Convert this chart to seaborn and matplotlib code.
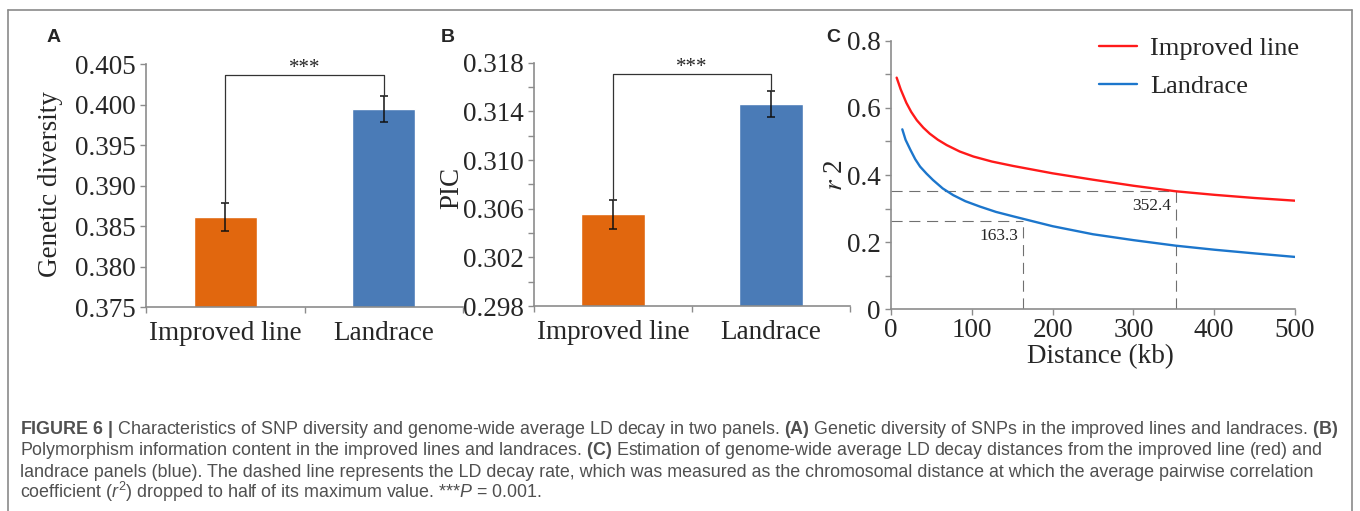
import numpy as np
import pandas as pd
import matplotlib
matplotlib.use("Agg")
import matplotlib.pyplot as plt
from matplotlib.lines import Line2D
import seaborn as sns

# ---------------- data ----------------
groups = ["Improved line", "Landrace"]
gd_mean = [0.3861, 0.3994]
gd_err = [0.0017, 0.0016]
gd_bracket = 0.4036
pic_mean = [0.30554, 0.3146]
pic_err = [0.0012, 0.00107]
pic_bracket = 0.31707
sig_label = "***"

dist_improved = [7, 12, 19, 25, 32, 40, 48, 58, 69, 85, 102, 125, 151, 200, 250,
                 300, 352.4, 400, 450, 500]
r2_improved = [0.690, 0.655, 0.615, 0.588, 0.563, 0.541, 0.523, 0.505, 0.489, 0.470,
               0.455, 0.440, 0.427, 0.405, 0.386, 0.368, 0.3515, 0.341, 0.3315, 0.3235]
dist_landrace = [14, 18, 24, 30, 36, 44, 52, 64, 77, 92, 110, 130, 151, 175, 200,
                 250, 300, 352.4, 400, 450, 500]
r2_landrace = [0.536, 0.505, 0.475, 0.447, 0.425, 0.404, 0.385, 0.360, 0.340, 0.322,
               0.306, 0.290, 0.277, 0.2625, 0.2475, 0.2235, 0.206, 0.1895, 0.1775,
               0.1665, 0.156]
decay_dist = [352.4, 163.3]
decay_r2 = [0.3515, 0.262]

gd_ticks = [0.375, 0.380, 0.385, 0.390, 0.395, 0.400, 0.405]
pic_ticks = [0.298, 0.302, 0.306, 0.310, 0.314, 0.318]
r2_ticks = [0, 0.2, 0.4, 0.6, 0.8]
r2_ticklabels = ["0", "0.2", "0.4", "0.6", "0.8"]
dist_ticks = [0, 100, 200, 300, 400, 500]

caption_lines = [
    r"$\mathbf{FIGURE\ 6\ |}$ Characteristics of SNP diversity and genome-wide average LD decay in two panels. $\mathbf{(A)}$ Genetic diversity of SNPs in the improved lines and landraces. $\mathbf{(B)}$",
    r"Polymorphism information content in the improved lines and landraces. $\mathbf{(C)}$ Estimation of genome-wide average LD decay distances from the improved line (red) and",
    r"landrace panels (blue). The dashed line represents the LD decay rate, which was measured as the chromosomal distance at which the average pairwise correlation",
    r"coefficient ($r^2$) dropped to half of its maximum value. ***$P$ = 0.001.",
]

bar_colors = ["#E1670E", "#4A7BB7"]
line_colors = ["#FF1A1A", "#1C76CC"]

# ---------------- style ----------------
sns.set_style("ticks")
plt.rcParams["font.family"] = ["Liberation Serif", "DejaVu Serif"]
plt.rcParams["mathtext.fontset"] = "custom"
plt.rcParams["mathtext.rm"] = "Liberation Sans"
plt.rcParams["mathtext.it"] = "Liberation Sans:italic"
plt.rcParams["mathtext.bf"] = "Liberation Sans:bold"

W, H = 1360, 511
fig = plt.figure(figsize=(W / 100, H / 100), dpi=100)


def fx(px):
    return px / W


def fy(py):
    return 1 - py / H


def rect(l, t, r, b):
    return [fx(l), fy(b), (r - l) / W, (b - t) / H]


SPINE = "#8c8c8c"
FS = 19.5


def style_axes(ax):
    sns.despine(ax=ax)
    for s in ["left", "bottom"]:
        ax.spines[s].set_color(SPINE)
        ax.spines[s].set_linewidth(1.2)
    ax.tick_params(axis="both", which="both", color=SPINE, width=1.0,
                   labelsize=FS, direction="out")


def bar_panel(ax, means, errs, ylim, ticks, minor, ylabel, bracket, label_xy):
    df = pd.DataFrame({"group": groups, "value": means})
    sns.barplot(data=df, x="group", y="value", hue="group", palette=bar_colors,
                width=0.4, saturation=1, legend=False, ax=ax, errorbar=None)
    ax.errorbar(x=[0, 1], y=means, yerr=errs, fmt="none", ecolor="#111111",
                elinewidth=1.1, capsize=3, capthick=1.1, zorder=4)
    top = [m + e for m, e in zip(means, errs)]
    ax.plot([0, 0, 1, 1], [top[0], bracket, bracket, top[1]], color="#333333",
            lw=0.9, zorder=4)
    ax.annotate(sig_label, xy=(0.5, bracket), xytext=(0, 1.5),
                textcoords="offset points", ha="center", va="baseline",
                fontsize=15)
    ax.set_xlim(-0.5, 1.5)
    ax.set_ylim(*ylim)
    ax.set_yticks(ticks)
    ax.set_yticklabels([f"{t:.3f}" for t in ticks])
    if minor is not None:
        ax.set_yticks(minor, minor=True)
    ax.set_xticks([0, 1])
    ax.set_xticklabels(groups)
    ax.set_xticks([-0.5, 0.5, 1.5], minor=True)
    style_axes(ax)
    ax.tick_params(axis="y", which="both", length=4.5, pad=3)
    ax.tick_params(axis="x", which="major", length=0, pad=10)
    ax.tick_params(axis="x", which="minor", length=4.5)
    ax.set_xlabel("")
    ax.set_ylabel(ylabel, fontsize=FS, va="center")
    ax.yaxis.set_label_coords(fx(label_xy[0]), fy(label_xy[1]),
                              transform=fig.transFigure)


# Panel A
axA = fig.add_axes(rect(146, 64, 463, 307))
bar_panel(axA, gd_mean, gd_err, (0.375, 0.405), gd_ticks, None,
          "Genetic diversity", gd_bracket, (51, 184))

# Panel B
axB = fig.add_axes(rect(534, 62.7, 850, 306))
pic_minor = [t + 0.002 for t in pic_ticks[:-1]]
bar_panel(axB, pic_mean, pic_err, (0.298, 0.318), pic_ticks, pic_minor,
          "PIC", pic_bracket, (452, 188))

# Panel C
axC = fig.add_axes(rect(891, 40.7, 1295, 309.3))
df_ld = pd.concat([
    pd.DataFrame({"dist": dist_improved, "r2": r2_improved, "group": groups[0]}),
    pd.DataFrame({"dist": dist_landrace, "r2": r2_landrace, "group": groups[1]}),
])
sns.lineplot(data=df_ld, x="dist", y="r2", hue="group",
             palette=dict(zip(groups, line_colors)), estimator=None,
             linewidth=1.7, legend=False, ax=axC)
for ln in axC.get_lines():
    ln.set_solid_joinstyle("round")
for d, r in zip(decay_dist, decay_r2):
    axC.plot([0, d], [r, r], color="#707070", lw=0.8, ls=(0, (10, 6)), zorder=1)
    axC.plot([d, d], [0, r], color="#707070", lw=0.8, ls=(0, (10, 6)), zorder=1)
    axC.annotate(f"{d}", xy=(d, r), xytext=(-3.5, -4.5), textcoords="offset points",
                 ha="right", va="top", fontsize=12.5)
axC.set_xlim(0, 500)
axC.set_ylim(0, 0.8)
axC.set_xticks(dist_ticks)
axC.set_yticks(r2_ticks)
axC.set_yticklabels(r2_ticklabels)
axC.set_yticks([0.1, 0.3, 0.5, 0.7], minor=True)
style_axes(axC)
axC.tick_params(axis="y", which="both", length=4.5, pad=3)
axC.tick_params(axis="x", which="major", length=4.5, pad=2)
axC.set_xlabel("Distance (kb)", fontsize=FS, va="center")
axC.xaxis.set_label_coords(fx(1100), fy(357), transform=fig.transFigure)
axC.set_ylabel(r"$r$ 2", fontsize=FS, va="center", math_fontfamily="stix")
axC.yaxis.set_label_coords(fx(836), fy(175), transform=fig.transFigure)
handles = [Line2D([], [], color=c, lw=1.7) for c in line_colors]
axC.legend(handles, groups, loc="upper left", bbox_to_anchor=(fx(1099), fy(37)),
           bbox_transform=fig.transFigure, frameon=False, fontsize=19,
           handlelength=1.45, handletextpad=0.5, labelspacing=0.55,
           borderpad=0, borderaxespad=0)

# panel letters
for letter, (px, py) in zip(["A", "B", "C"], [(54, 37), (448, 37), (833, 37)]):
    fig.text(fx(px), fy(py), letter, family="Liberation Sans", fontweight="bold",
             fontsize=14, ha="center", va="center")

# frame
for xs, ys in [([8, 8], [10, H]), ([8, 1352], [10, 10]), ([1352, 1352], [10, H])]:
    fig.add_artist(Line2D([fx(x) for x in xs], [fy(y) for y in ys],
                          transform=fig.transFigure, color="#8a8a8a", lw=1.2))

# caption
baselines = [433.5, 455, 476.5, 498]
cap_texts = []
for s, b in zip(caption_lines, baselines):
    t = fig.text(fx(20), fy(b), s, family="Liberation Sans", fontsize=11.4,
                 color="#505050", ha="left", va="baseline", math_fontfamily="custom")
    cap_texts.append(t)
fig.canvas.draw()
w = cap_texts[0].get_window_extent(fig.canvas.get_renderer()).width
scale = 1325.0 / w
for t in cap_texts:
    t.set_fontsize(11.4 * scale)

fig.savefig("out.png", dpi=100)
